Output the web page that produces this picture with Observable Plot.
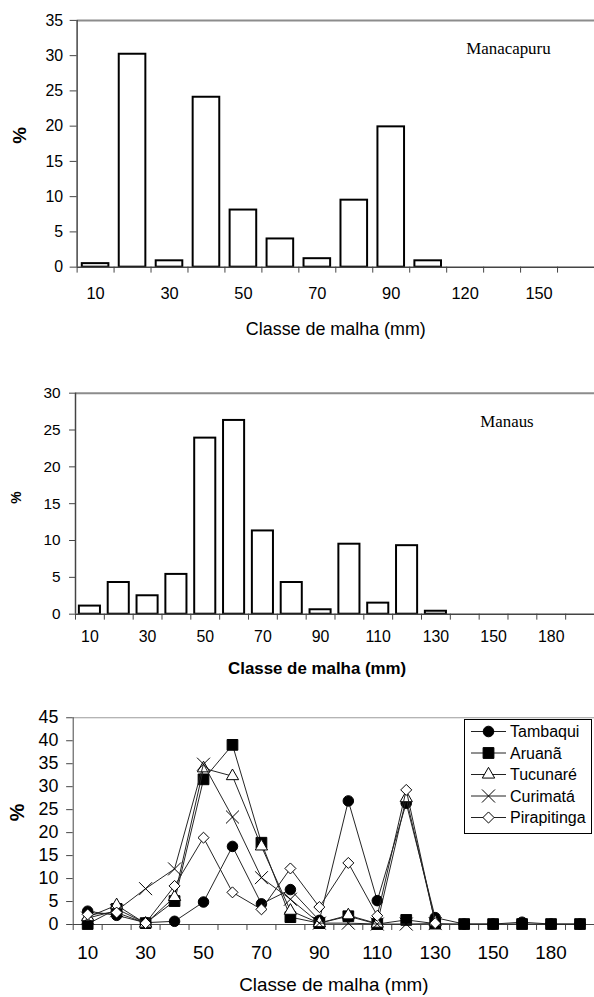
<!DOCTYPE html>
<html><head><meta charset="utf-8">
<script src="https://cdn.jsdelivr.net/npm/d3@7"></script>
<script src="https://cdn.jsdelivr.net/npm/@observablehq/plot@0.6"></script>
<style>
html,body{margin:0;padding:0;background:#fff;overflow:hidden}
#root{position:relative;width:594px;height:997px;overflow:hidden;background:#fff}
.panel{position:absolute;left:0}
</style></head><body><div id="root"></div>
<script>
// ---------- data ----------
const xTitle = "Classe de malha (mm)";

// Panel 1: Manacapuru
const manacapuruClasses = ["10","20","30","40","50","60","70","80","90","100","120","130","150","160"];
const manacapuruPct     = [0.5, 30.2, 0.9, 24.1, 8.1, 4.0, 1.2, 9.5, 19.9, 0.9, 0, 0, 0, 0];
const manacapuruLabels  = ["10","30","50","70","90","120","150"];
const manacapuruYTicks  = [0,5,10,15,20,25,30,35];

// Panel 2: Manaus
const manausClasses = ["10","20","30","40","50","60","70","80","90","100","110","120","130","140","150","160","180","200"];
const manausPct     = [1.1, 4.3, 2.5, 5.4, 23.9, 26.3, 11.3, 4.3, 0.6, 9.5, 1.5, 9.3, 0.4, 0, 0, 0, 0, 0];
const manausLabels  = ["10","30","50","70","90","110","130","150","180"];
const manausYTicks  = [0,5,10,15,20,25,30];

// Panel 3: species
const speciesClasses = ["10","20","30","40","50","60","70","80","90","100","110","120","130","140","150","160","180","200"];
const speciesLabels  = ["10","30","50","70","90","110","130","150","180"];
const speciesYTicks  = [0,5,10,15,20,25,30,35,40,45];
const tambaqui    = [2.9, 2.0, 0.4, 0.7, 4.9, 17.0, 4.5, 7.6, 0.9, 26.9, 5.2, 26.4, 1.5, 0.1, 0.1, 0.5, 0.1, 0.1];
const aruana      = [0.1, 3.4, 0.3, 5.1, 31.6, 39.1, 17.8, 1.6, 0.3, 1.8, 0.1, 1.0, 0.2, 0.1, 0.1, 0.1, 0.1, 0.1];
const tucunare    = [1.6, 4.2, 0.2, 6.0, 34.0, 32.3, 17.0, 3.0, 0.3, 2.0, 0.2, 27.5, 0.5];
const curimata    = [1.4, 3.0, 7.8, 12.1, 34.9, 23.4, 10.2, 5.5, 0.3, 0.3, 0.1, 0.1, 0.2];
const pirapitinga = [2.2, 2.6, 0.3, 8.4, 18.9, 7.0, 3.3, 12.2, 3.8, 13.4, 1.9, 29.3, 0.3];
const seriesNames = ["Tambaqui","Aruanã","Tucunaré","Curimatá","Pirapitinga"];

// ---------- styles ----------
const SANS = "Arial, 'Liberation Sans', sans-serif";
const SERIF = "'Times New Roman', 'Liberation Serif', serif";
const root = document.getElementById("root");
function place(svg, top) {
  svg.classList.add("panel");
  svg.style.top = top + "px";
  root.appendChild(svg);
}

function barPanel({classes, pct, labels, yTicks, yMax, width, height, mt, mb, ml, inset, tickFs, xFs,
                   yTickSize, yTickPad, xLabPad, title, titleDy, titleDx, titleFs, titleWeight,
                   pctFs, pctDx, place: placeName, placeDx, placeDy, topStroke, axisStroke}) {
  const bars = pct.map((v, i) => ({i, v})).filter(d => d.v > 0);
  return Plot.plot({
    width, height, marginTop: mt, marginBottom: mb, marginLeft: ml, marginRight: 0,
    style: {fontFamily: SANS, fontSize: "16px", color: "#000", background: "transparent", overflow: "visible"},
    x: {domain: [0, classes.length], label: null},
    y: {domain: [0, yMax], label: null},
    marks: [
      Plot.ruleY([yMax], {stroke: "#8c8c8c", strokeWidth: topStroke}),
      Plot.rectY(bars, {x1: "i", x2: d => d.i + 1, y1: 0, y2: "v", fill: "white", stroke: "#000",
                        strokeWidth: 2, insetLeft: inset, insetRight: inset}),
      Plot.ruleX([0], {stroke: "#444", strokeWidth: axisStroke}),
      Plot.ruleY([0], {stroke: "#444", strokeWidth: axisStroke}),
      Plot.axisY({ticks: yTicks, tickSize: yTickSize, tickPadding: yTickPad, fontSize: tickFs, label: null, stroke: "#444"}),
      Plot.axisX({ticks: d3.range(0, classes.length + 1), tickSize: 6, tickFormat: () => "", label: null, stroke: "#444"}),
      Plot.axisX({ticks: labels.map(l => classes.indexOf(l) + 0.5), tickSize: 0, tickPadding: xLabPad,
                  tickFormat: v => classes[Math.floor(v)], fontSize: xFs, label: null}),
      Plot.text([title], {frameAnchor: "bottom", lineAnchor: "bottom", dy: titleDy, dx: titleDx,
                          fontSize: titleFs, fontWeight: titleWeight}),
      Plot.text(["%"], {frameAnchor: "left", rotate: -90, dx: pctDx, fontWeight: "bold", fontSize: pctFs}),
      Plot.text([placeName], {frameAnchor: "top-left", textAnchor: "start", lineAnchor: "bottom",
                              dx: placeDx, dy: placeDy, fontFamily: SERIF, fontSize: 17})
    ]
  });
}

// Panel 1
place(barPanel({
  classes: manacapuruClasses, pct: manacapuruPct, labels: manacapuruLabels, yTicks: manacapuruYTicks, yMax: 35,
  width: 597, height: 345, mt: 20, mb: 77, ml: 77, inset: 5.2, tickFs: 16, xFs: 16.5,
  yTickSize: 7, yTickPad: 7, xLabPad: 20, title: xTitle, titleDy: 68, titleDx: 0, titleFs: 18, titleWeight: "normal",
  pctFs: 19, pctDx: -57, place: "Manacapuru", placeDx: 391, placeDy: 34, topStroke: 2, axisStroke: 1.5
}), 0);

// Panel 2
place(barPanel({
  classes: manausClasses, pct: manausPct, labels: manausLabels, yTicks: manausYTicks, yMax: 30,
  width: 598, height: 345, mt: 48, mb: 74.5, ml: 75.5, inset: 3.9, tickFs: 15.5, xFs: 16,
  yTickSize: 6, yTickPad: 9, xLabPad: 16.5, title: xTitle, titleDy: 60.5, titleDx: -18, titleFs: 17, titleWeight: "bold",
  pctFs: 14, pctDx: -59, place: "Manaus", placeDx: 407.5, placeDy: 33.7, topStroke: 2, axisStroke: 1.5
}), 345);

// Panel 3
const seriesDefs = [
  {name: seriesNames[0], values: tambaqui,    symbol: "circle",   r: 5.3, fill: "#000"},
  {name: seriesNames[1], values: aruana,      symbol: "square",   r: 6.1, fill: "#000"},
  {name: seriesNames[2], values: tucunare,    symbol: "triangle", r: 4.6, fill: "#fff"},
  {name: seriesNames[3], values: curimata,    symbol: "times",    r: 6.0, fill: "none"},
  {name: seriesNames[4], values: pirapitinga, symbol: "diamond2", r: 5.0, fill: "#fff"}
];
const lineMarks = [];
for (const s of seriesDefs) {
  const data = s.values.map((v, i) => ({i, v}));
  lineMarks.push(Plot.line(data, {x: d => d.i + 0.5, y: "v", stroke: "#222", strokeWidth: 1}));
  lineMarks.push(Plot.dot(data, {x: d => d.i + 0.5, y: "v", symbol: s.symbol, r: s.r, fill: s.fill,
                                 stroke: "#000", strokeWidth: 1}));
}
place(Plot.plot({
  width: 599, height: 307, marginTop: 27.5, marginBottom: 71, marginLeft: 73.3, marginRight: 0,
  style: {fontFamily: SANS, fontSize: "18px", color: "#000", background: "transparent", overflow: "visible"},
  x: {domain: [0, speciesClasses.length], label: null},
  y: {domain: [0, 45], label: null},
  marks: [
    Plot.ruleY([45], {stroke: "#9a9a9a", strokeWidth: 1}),
    Plot.ruleX([0], {stroke: "#444", strokeWidth: 1}),
    Plot.ruleY([0], {stroke: "#444", strokeWidth: 1}),
    Plot.axisY({ticks: speciesYTicks, tickSize: 6.6, tickPadding: 8.4, fontSize: 18, label: null, stroke: "#444"}),
    Plot.axisX({ticks: d3.range(0, speciesClasses.length + 1), tickSize: 6, tickFormat: () => "", label: null, stroke: "#444"}),
    Plot.axisX({ticks: speciesLabels.map(l => speciesClasses.indexOf(l) + 0.5), tickSize: 0, tickPadding: 21,
                tickFormat: v => speciesClasses[Math.floor(v)], fontSize: 19, label: null}),
    ...lineMarks,
    Plot.text([xTitle], {frameAnchor: "bottom", lineAnchor: "bottom", dy: 67, fontSize: 19}),
    Plot.text(["%"], {frameAnchor: "left", rotate: -90, dx: -56.3, fontWeight: "bold", fontSize: 20})
  ]
}), 690);

// Legend for panel 3
const symbolMap = {circle: d3.symbolCircle, square: d3.symbolSquare, triangle: d3.symbolTriangle,
                   times: d3.symbolTimes, diamond2: d3.symbolDiamond2};
const leg = d3.select(root).append("svg").attr("class", "panel")
  .style("left", "464px").style("top", "719px").attr("width", 129).attr("height", 116)
  .style("font-family", SANS).style("font-size", "16px");
leg.append("rect").attr("x", 0.5).attr("y", 0.5).attr("width", 127).attr("height", 114)
  .attr("fill", "#fff").attr("stroke", "#000");
seriesDefs.forEach((s, k) => {
  const g = leg.append("g").attr("transform", `translate(0,${12.5 + 21.5 * k})`);
  g.append("line").attr("x1", 7).attr("x2", 42).attr("stroke", "#222").attr("stroke-width", 1);
  g.append("path").attr("d", d3.symbol(symbolMap[s.symbol], Math.PI * s.r * s.r)())
    .attr("transform", "translate(24.5,0)").attr("fill", s.fill).attr("stroke", "#000");
  g.append("text").attr("x", 46).attr("dy", "0.35em").text(s.name);
});
</script></body></html>
